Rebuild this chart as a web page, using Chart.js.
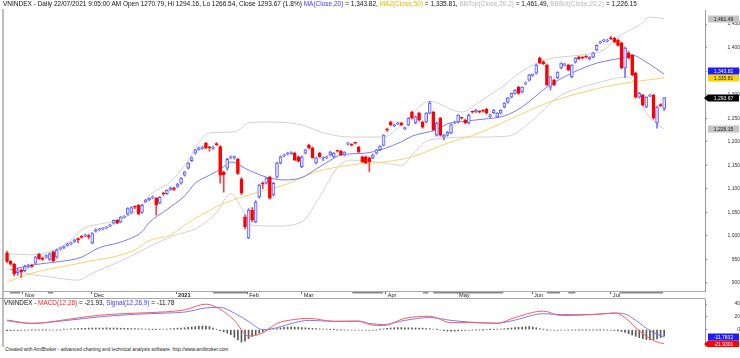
<!DOCTYPE html>
<html><head><meta charset="utf-8">
<script src="https://cdn.jsdelivr.net/npm/chart.js@4/dist/chart.umd.min.js"></script>
<style>
html,body{margin:0;padding:0;background:#fff;width:740px;height:358px;overflow:hidden;font-family:"Liberation Sans",Arial,sans-serif;}
#wrap{position:relative;width:740px;height:358px;}
canvas{position:absolute;left:0;}
.t{position:absolute;white-space:nowrap;color:#111;line-height:1;}
.ln{position:absolute;background:#bdbdbd;}
</style></head><body>
<div id="wrap">
<canvas id="c1" width="740" height="299" style="top:0"></canvas>
<canvas id="c2" width="740" height="48" style="top:299px"></canvas>
<div class="ln" style="left:2px;top:9px;width:2px;height:338px"></div>
<div class="ln" style="left:0;top:298px;width:705px;height:1px;background:#aaa"></div>
<div class="t" style="left:3px;top:1px;font-size:6.5px">VNINDEX - Daily 22/07/2021 9:05:00 AM Open 1270.79, Hi 1294.16, Lo 1266.54, Close 1293.67 (1.8%) <span style="color:#3b3bff">MA(Close,20)</span> = 1,343.82, <span style="color:#e8b800">MA2(Close,50)</span> = 1,335.81, <span style="color:#b8b8b8">BBTop(Close,20,2)</span> = 1,461.49, <span style="color:#b8b8b8">BBBot(Close,20,2)</span> = 1,226.15</div>
<div class="t" style="left:4px;top:300px;font-size:6.4px">VNINDEX - <span style="color:#ff2020">MACD(12,26)</span> = -21.93, <span style="color:#3b3bff">Signal(12,26,9)</span> = -11.78</div>
<div class="t" style="left:5px;top:348px;font-size:4.9px;color:#222">Created with AmiBroker - advanced charting and technical analysis software. http://www.amibroker.com</div>
</div>
<script>
// ---------- data ----------
const opens = [964,946,940,922,928,926,935,938,942,961,953,955,950,966,955,972,975,980,983,988,994,999,1000,1001,985,1010,1013,1015,1017,1021,1027,1033,1030,1040,1046,1050,1063,1065,1050,1073,1077,1081,1080,1070,1091,1090,1098,1102,1105,1112,1129,1144,1160,1176,1184,1186,1197,1188,1186,1196,1190,1135,1144,1166,1167,1163,1121,1040,996,1055,1030,1083,1112,1112,1125,1087,1125,1155,1170,1174,1175,1176,1168,1147,1176,1193,1187,1155,1176,1165,1166,1172,1168,1181,1180,1172,1195,1195,1198,1189,1168,1168,1166,1166,1176,1183,1193,1227,1242,1234,1238,1240,1228,1236,1263,1240,1261,1242,1242,1261,1263,1214,1250,1210,1214,1219,1240,1242,1251,1246,1240,1264,1264,1264,1267,1269,1254,1262,1253,1261,1274,1284,1295,1303,1316,1306,1323,1331,1341,1346,1378,1370,1363,1316,1331,1336,1357,1363,1363,1338,1369,1380,1379,1381,1376,1380,1395,1410,1414,1414,1420,1420,1416,1410,1357,1389,1384,1346,1295,1299,1274,1297,1299,1240,1278,1270.79];
const highs = [968,948,942,932,930,938,940,940,957,963,955,960,964,968,972,976,979,985,987,993,996,1001,1004,1003,1007,1015,1016,1018,1020,1025,1034,1035,1041,1043,1060,1062,1064,1067,1067,1078,1081,1085,1082,1084,1093,1098,1104,1103,1112,1124,1137,1156,1168,1184,1189,1191,1199,1190,1191,1198,1192,1138,1165,1170,1170,1165,1124,1045,1058,1060,1075,1110,1115,1124,1127,1114,1157,1170,1174,1178,1179,1178,1170,1170,1184,1195,1189,1167,1178,1168,1170,1180,1177,1182,1182,1179,1199,1196,1199,1191,1170,1170,1168,1174,1184,1192,1215,1229,1244,1238,1242,1242,1231,1251,1265,1255,1263,1244,1262,1286,1265,1242,1252,1216,1222,1238,1244,1258,1252,1248,1259,1265,1269,1266,1268,1271,1259,1269,1262,1268,1283,1294,1304,1311,1318,1317,1327,1343,1344,1365,1380,1372,1365,1339,1333,1349,1368,1367,1365,1364,1379,1382,1381,1383,1381,1390,1406,1414,1418,1418,1424,1422,1418,1412,1401,1392,1386,1348,1305,1301,1296,1301,1301,1276,1281,1294.16];
const lows = [943,938,915,916,912,924,932,933,940,950,948,953,948,945,953,970,973,978,981,986,985,995,998,994,983,1008,1011,1013,1015,1019,1025,1026,1028,1038,1044,1048,1058,1045,1048,1071,1075,1079,1044,1068,1086,1088,1097,1096,1103,1110,1127,1142,1158,1174,1182,1184,1185,1180,1184,1192,1112,1093,1140,1164,1163,1130,1088,1015,994,1030,1028,1080,1100,1110,1078,1085,1123,1153,1168,1172,1173,1160,1157,1145,1174,1185,1165,1153,1167,1160,1164,1170,1166,1178,1171,1170,1193,1191,1195,1177,1156,1154,1136,1164,1174,1181,1191,1222,1234,1232,1236,1234,1226,1234,1248,1238,1244,1229,1240,1259,1223,1212,1212,1204,1212,1217,1238,1240,1248,1238,1238,1261,1262,1261,1263,1259,1252,1260,1251,1259,1272,1282,1293,1301,1301,1304,1321,1329,1339,1344,1366,1364,1319,1310,1319,1334,1355,1361,1351,1336,1367,1375,1376,1378,1374,1378,1393,1408,1412,1412,1417,1410,1403,1355,1336,1376,1340,1293,1293,1276,1272,1296,1248,1229,1275,1266.54];
const closes = [946,940,920,926,924,935,937,935,955,951,950,958,962,947,970,974,977,983,985,991,992,997,1002,998,1005,1013,1015,1017,1019,1023,1033,1027,1040,1042,1059,1060,1061,1047,1065,1076,1080,1083,1066,1082,1089,1097,1102,1099,1110,1123,1136,1155,1166,1183,1187,1189,1187,1187,1189,1194,1129,1130,1163,1168,1168,1133,1091,1019,1055,1034,1072,1108,1110,1123,1080,1112,1155,1168,1172,1176,1176,1161,1159,1168,1183,1187,1166,1166,1168,1166,1168,1178,1176,1180,1172,1178,1197,1193,1197,1178,1157,1155,1158,1172,1183,1191,1214,1225,1236,1236,1240,1236,1229,1250,1250,1253,1246,1231,1261,1282,1225,1240,1214,1214,1220,1236,1242,1257,1250,1240,1257,1263,1267,1263,1265,1261,1257,1267,1261,1267,1282,1293,1303,1310,1303,1316,1325,1342,1342,1363,1367,1366,1321,1338,1321,1348,1367,1365,1353,1363,1378,1376,1378,1380,1380,1389,1405,1412,1416,1416,1419,1412,1405,1357,1399,1378,1342,1295,1303,1278,1295,1299,1250,1274,1277,1293.67];

// indicator lines (candle index -> value)
const ma20At = [1,7,12,18,21,26,32,38,40,45,50,53,57,59,61,63,68,73,78,83,87,92,94,101,106,111,114,121,124,128,134,140,145,152,159,166,173,176,180,185];
const ma20   = [928,938,943,949,955,975,987,1009,1028,1056,1085,1112,1129,1137,1147,1157,1140,1125,1119,1124,1142,1165,1172,1176,1185,1200,1212,1226,1238,1243,1248,1255,1274,1316,1346,1367,1378,1384,1369,1343.82];
const ma50At = [0,7,21,36,40,46,50,59,68,78,87,97,106,114,124,133,143,152,161,171,180,185];
const ma50   = [902,921,943,970,990,1002,1023,1062,1087,1108,1136,1151,1157,1168,1197,1219,1253,1282,1303,1321,1331,1335.81];
const bbTopAt = [0,7,17,21,31,38,40,46,50,57,64,68,73,83,89,97,106,111,119,128,133,139,145,152,161,168,172,178,181,185];
const bbTop   = [962,960,985,1013,1034,1062,1085,1115,1150,1219,1221,1240,1242,1236,1219,1210,1210,1235,1286,1263,1285,1315,1350,1375,1384,1395,1423,1448,1465,1461.49];
const bbBotAt = [0,7,12,20,24,31,40,46,54,59,63,66,69,76,83,88,93,97,106,111,115,119,131,141,149,155,161,166,175,180,185];
const bbBot   = [930,918,913,906,921,943,977,998,1019,1050,1090,1060,1023,1021,1030,1083,1145,1161,1155,1150,1180,1204,1210,1212,1253,1295,1314,1325,1338,1261,1226.15];

const macdAt = [0,7,17,26,36,45,50,56,60,64,68,70,72,76,81,85,92,99,102,106,112,119,125,130,138,143,151,156,166,171,174,177,181,184,185];
const macd   = [14,9.5,16,22.6,25.8,28,31,40,32,14.5,-10,-9,-5,9.7,16,17.7,13,13,8,6.5,17.7,21,11,11,10,19,29,22,24,26,19,3,-14,-21,-21.93];
const sigAt  = [0,7,17,26,36,45,50,56,60,64,68,72,76,81,85,92,99,102,106,112,119,125,130,138,143,151,156,166,171,174,177,181,185];
const signal = [15,10,14.5,20,24,26,27.5,34,35,26,13,0,3,11,14.5,13,13.5,9.7,8,14.5,19,14.5,12,10,15,25,23.5,24,26,24.5,14.5,-1.6,-11.78];
const hist = [-1.5,-1.5,-1.2,-1.2,-1,-1,
 -0.6,-0.4,-0.3,-0.2,-0.2,-0.3,-0.5,
 -0.8,-0.6,-0.4,0.3,0.6,
 1.2,1.5,1.8,2,2.2,2.4,2.5,2.6,2.5,2.6,2.8,2.6,2.5,2.4,2.2,2.1,2,1.8,1.6,1.4,1.2,1,
 0.4,0.2,0.2,
 0.5,0.8,1,1.4,1.8,2.2,2.6,3,
 3.6,4.2,4.8,5.4,5.8,5.6,4.8,
 2.5,0.5,-1.5,
 -3.5,-5.5,-8,
 -12,-16,-19.5,-18,-14,-10.5,
 -8,-5.5,-3.5,-1.5,
 0,1,1.8,
 2.8,3.5,4,4.2,4,3.6,3.2,2.8,
 2.4,2,1.6,1.2,0.9,0.6,0.3,
 0.1,-0.2,-0.3,-0.5,-0.6,-0.7,-0.6,-0.7,-0.8,-0.9,
 -1,-0.8,-0.4,0.3,
 1.2,2,2.6,3,3.2,3.2,3,2.9,2.8,2.6,2.4,2.2,1.8,1.4,0.8,0.2,
 -0.8,-1.6,-2.2,-2.5,-2.4,-2,-1.6,-1.2,
 -0.8,-0.5,-0.3,-0.2,-0.1,0,0.1,0.3,0.6,
 1,1.5,2,2.6,3.1,3.6,4,4.4,4.8,4.2,3,1.6,
 0.4,-0.4,-0.8,-1,-1,-0.9,-0.8,-0.6,-0.5,-0.4,-0.3,-0.2,-0.2,-0.3,-0.4,-0.3,-0.2,-0.3,-0.5,-0.8,
 -1.4,-2.2,
 -3,-4.5,-6.5,-8.5,-10.5,-12.5,-14,-15.5,-16,-15.5,-14.5,-12.5,-10.15];

const monthPos = [4.4,23.9,47.6,67.6,83.0,106.6,126.7,147.8,170.0];
const monthLabels = ['Nov','Dec','2021','Feb','Mar','Apr','May','Jun','Jul'];
const priceTicks = [900,950,1000,1050,1100,1150,1200,1250,1300,1350,1400,1450];
const macdTicks = [0,20,40];
const stripRanges = [[0.85,3.7],[11.5,13],[58,67.6],[97.2,105.9],[117.1,118.6],[120,139.7],[152,155.7],[158,160],[172.6,184.7]];

// ---------- derived structures ----------
const FONT = '"Liberation Sans", Arial, sans-serif';
const up = closes.map((c,i)=>c>=opens[i]);
const pts = (xs,ys)=>xs.map((x,i)=>({x:x,y:ys[i]}));
const XMIN=-0.85, XMAX=196.5;

function tagPlugin(items){
  return {id:'tags', afterDraw(chart){
    const ctx=chart.ctx, ys=chart.scales.y, h=7;
    const list=items.map(t=>Object.assign({py:ys.getPixelForValue(t.v)},t)).sort((a,b)=>b.py-a.py);
    for(let i=1;i<list.length;i++){ if(list[i-1].py-list[i].py<h) list[i].py=list[i-1].py-h; }
    ctx.save();
    ctx.font='5px '+FONT; ctx.textAlign='center'; ctx.textBaseline='middle';
    list.forEach(t=>{
      const y=Math.round(t.py);
      ctx.fillStyle=t.bg;
      ctx.fillRect(708,y-3.5,31,h);
      if(t.arrow){ctx.beginPath();ctx.moveTo(704,y);ctx.lineTo(708,y-3.5);ctx.lineTo(708,y+3.5);ctx.closePath();ctx.fill();}
      ctx.fillStyle=t.fg; ctx.fillText(t.text,723.5,y+0.5);
    });
    ctx.restore();
  }};
}
const stripPlugin={id:'strip',afterDraw(chart){
  const ctx=chart.ctx, xs=chart.scales.x;
  ctx.save(); ctx.fillStyle='#8a8a8a';
  stripRanges.forEach(r=>{const a=xs.getPixelForValue(r[0]),b=xs.getPixelForValue(r[1]); ctx.fillRect(a,292,b-a,1.5);});
  ctx.restore();
}};
function noPad(s){s.paddingTop=0;s.paddingBottom=0;s.paddingLeft=0;s.paddingRight=0;}
const lineDs=(label,data,color,order)=>({type:'line',label,data,borderColor:color,borderWidth:1,pointRadius:0,fill:false,cubicInterpolationMode:'monotone',order});

// ---------- price chart ----------
new Chart(document.getElementById('c1'),{
  type:'bar',
  data:{datasets:[
    lineDs('BBTop',pts(bbTopAt,bbTop),'#d2d2d2',6),
    lineDs('BBBot',pts(bbBotAt,bbBot),'#d2d2d2',5),
    lineDs('MA50',pts(ma50At,ma50),'#f6d46a',4),
    lineDs('MA20',pts(ma20At,ma20),'#7a7af4',3),
    {label:'wick',data:lows.map((l,i)=>({x:i,y:[l,highs[i]]})),backgroundColor:up.map(u=>u?'#7070ff':'#ff4040'),barThickness:1,grouped:false,order:2},
    {label:'body',data:opens.map((o,i)=>({x:i,y:[Math.min(o,closes[i]),Math.max(o,closes[i])]})),
     backgroundColor:up.map(u=>u?'#e2e2ff':'#ff0000'),borderColor:up.map(u=>u?'#6060ff':'#ff0000'),
     borderWidth:1,borderSkipped:false,barThickness:3,minBarLength:1,grouped:false,order:1}
  ]},
  options:{
    responsive:false,animation:false,devicePixelRatio:1,
    layout:{padding:{left:4,top:10,right:0,bottom:0}},
    plugins:{legend:{display:false},tooltip:{enabled:false}},
    scales:{
      x:{type:'linear',min:XMIN,max:XMAX,offset:false,
        afterBuildTicks:s=>{s.ticks=monthPos.map(v=>({value:v}));},
        afterFit:s=>{s.height=8;noPad(s);},
        ticks:{autoSkip:false,maxRotation:0,minRotation:0,align:'start',labelOffset:2,padding:-2,color:'#222',
          font:c=>({family:FONT,size:5.6,weight:(monthLabels[c.index]==='2021')?'bold':'normal'}),
          callback:(v,i)=>monthLabels[i]},
        grid:{drawOnChartArea:false,drawTicks:true,tickLength:3,color:'#666',offset:false},
        border:{display:true,color:'#aaa'}},
      y:{position:'right',min:883,max:1480,
        afterBuildTicks:s=>{s.ticks=priceTicks.map(v=>({value:v}));},
        afterFit:s=>{s.width=35;noPad(s);},
        ticks:{crossAlign:'far',padding:3,color:'#333',font:{family:FONT,size:5},callback:v=>v.toLocaleString('en-US')},
        grid:{drawOnChartArea:false,tickLength:2,color:'#999'},
        border:{display:true,color:'#999'}}
    }
  },
  plugins:[stripPlugin,tagPlugin([
    {v:bbTop[bbTop.length-1],text:'1,461.49',bg:'#c4c4c4',fg:'#222'},
    {v:ma20[ma20.length-1],text:'1,343.82',bg:'#1c1cff',fg:'#fff'},
    {v:ma50[ma50.length-1],text:'1,335.81',bg:'#ffd400',fg:'#222'},
    {v:closes[closes.length-1],text:'1,293.67',bg:'#000',fg:'#fff',arrow:true},
    {v:bbBot[bbBot.length-1],text:'1,226.15',bg:'#c4c4c4',fg:'#222'}
  ])]
});

// ---------- MACD chart ----------
new Chart(document.getElementById('c2'),{
  type:'bar',
  data:{datasets:[
    {label:'hist',data:hist.map((h,i)=>({x:i,y:h})),backgroundColor:'#5a5a5a',barThickness:1,grouped:false,order:3},
    lineDs('Signal',pts(sigAt,signal),'#7a7af4',2),
    lineDs('MACD',pts(macdAt,macd),'#ff5a5a',1)
  ]},
  options:{
    responsive:false,animation:false,devicePixelRatio:1,
    layout:{padding:{left:4,top:0,right:0,bottom:0}},
    plugins:{legend:{display:false},tooltip:{enabled:false}},
    scales:{
      x:{type:'linear',min:XMIN,max:XMAX,offset:false,display:false},
      y:{position:'right',min:-27.2,max:48,
        afterBuildTicks:s=>{s.ticks=macdTicks.map(v=>({value:v}));},
        afterFit:s=>{s.width=35;noPad(s);},
        ticks:{crossAlign:'far',padding:3,color:'#333',font:{family:FONT,size:5}},
        grid:{drawOnChartArea:false,tickLength:2,color:'#999'},
        border:{display:true,color:'#999'}}
    }
  },
  plugins:[tagPlugin([
    {v:signal[signal.length-1],text:'-11.7832',bg:'#1c1cff',fg:'#fff'},
    {v:macd[macd.length-1],text:'-21.9301',bg:'#ff0000',fg:'#fff',arrow:true}
  ])]
});
</script>
</body></html>
